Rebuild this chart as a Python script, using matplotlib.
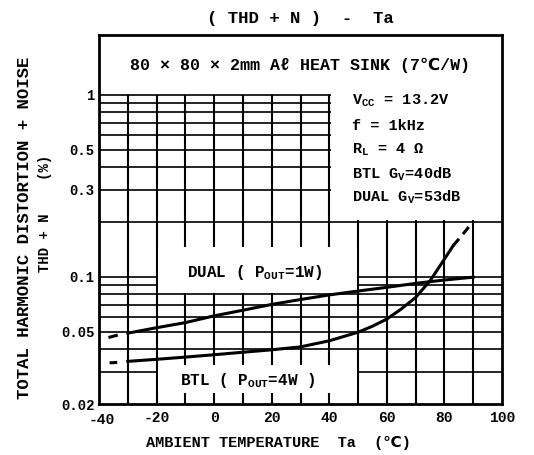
import numpy as np
import matplotlib
matplotlib.use("Agg")
import matplotlib.pyplot as plt
from matplotlib.patches import Rectangle
from matplotlib.transforms import ScaledTranslation

plt.rcParams['font.family'] = ['Liberation Mono', 'DejaVu Sans']
plt.rcParams['font.weight'] = 'bold'
plt.rcParams['mathtext.fontset'] = 'custom'
plt.rcParams['mathtext.rm'] = 'Liberation Mono:bold'
plt.rcParams['mathtext.it'] = 'Liberation Mono:bold'
plt.rcParams['mathtext.bf'] = 'Liberation Mono:bold'

# THD+N vs Ta
dual_x = [-30, -20, -10, 0, 10, 20, 30, 40, 50, 60, 70, 80, 90]
dual_y = [0.049, 0.0525, 0.056, 0.061, 0.0655, 0.0705, 0.075, 0.0795, 0.0835, 0.0875, 0.092, 0.096, 0.0995]

btl_x = [-30, -20, -10, 0, 10, 20, 30, 40, 50, 55, 60, 65, 70, 75, 80, 83]
btl_y = [0.0343, 0.0352, 0.0362, 0.0373, 0.0385, 0.0397, 0.0412, 0.0445, 0.0496, 0.0535, 0.0586, 0.0665, 0.077, 0.095, 0.125, 0.148]

btl_dash_x = [83, 86.5, 89.5]
btl_dash_y = [0.148, 0.172, 0.197]

# little extrapolation dashes at the left end
dual_ext_x = [-36.2, -34.0]
dual_ext_y = [0.0466, 0.0476]
btl_ext_x = [-35.8, -34.2]
btl_ext_y = [0.0337, 0.0338]

xticks = [-40, -20, 0, 20, 40, 60, 80, 100]
xtick_labels = ['-40', '-20', '0', '20', '40', '60', '80', '100']
yticks = [0.02, 0.05, 0.1, 0.3, 0.5, 1]
ytick_labels = ['0.02', '0.05', '0.1', '0.3', '0.5', '1']

grid_x = [-30, -20, -10, 0, 10, 20, 30, 40, 50, 60, 70, 80, 90]
grid_y = [0.03, 0.04, 0.05, 0.06, 0.07, 0.08, 0.09,
          0.1, 0.2, 0.3, 0.4, 0.5, 0.6, 0.7, 0.8, 0.9, 1.0]

fig = plt.figure(figsize=(5.34, 4.55), dpi=100)
ax = fig.add_axes([99/534, 1-404/455, 403/534, 369/455])
ax.set_yscale('log')
ax.set_xlim(-40, 100)
ax.set_ylim(0.02, 2.13)

# grid (only below 1)
ax.vlines(grid_x, 0.02, 1.0, colors='black', lw=1.5, zorder=1)
ax.hlines(grid_y, -40, 100, colors='black', lw=1.2, zorder=1)

# white label boxes that cut the grid
white = dict(facecolor='white', edgecolor='none', zorder=2)
ax.add_patch(Rectangle((40.5, 0.205), 60, 1.0, **white))
ax.add_patch(Rectangle((-19.5, 0.0815), 69.0, 0.146 - 0.0815, **white))
ax.add_patch(Rectangle((-19.5, 0.0229), 69.0, 0.0328 - 0.0229, **white))

ax.plot(dual_x, dual_y, color='black', lw=2.2, zorder=3)
ax.plot(btl_x, btl_y, color='black', lw=2.2, zorder=3)
ax.plot(btl_dash_x, btl_dash_y, color='black', lw=2.2, zorder=3,
        dashes=(3.0, 2.0))
ax.plot(dual_ext_x, dual_ext_y, color='black', lw=2.2, zorder=3)
ax.plot(btl_ext_x, btl_ext_y, color='black', lw=2.2, zorder=3)

for s in ax.spines.values():
    s.set_linewidth(2.0)

ax.set_xticks(xticks)
ax.set_xticklabels(xtick_labels, fontsize=10.5)
ax.set_yticks(yticks)
ax.set_yticklabels(ytick_labels, fontsize=10)
ax.yaxis.set_minor_locator(matplotlib.ticker.NullLocator())
ax.tick_params(length=0, pad=3)
ax.tick_params(axis='x', pad=5)
# the -40 label sits a little to the right in the original
lbl = ax.get_xticklabels()[0]
lbl.set_transform(lbl.get_transform() + ScaledTranslation(3/100, -2/100, fig.dpi_scale_trans))

fig.text(300/534, 1-18/455, '( THD + N )  -  Ta', ha='center', va='center', fontsize=12.5)
fig.text(278/534, 1-443/455, 'AMBIENT TEMPERATURE  Ta  (℃)', ha='center', va='center', fontsize=11)
fig.text(25/534, 1-228/455, 'TOTAL HARMONIC DISTORTION + NOISE', rotation=90,
         ha='center', va='center', fontsize=12.5)
fig.text(45/534, 1-213/455, 'THD + N    (%)', rotation=90,
         ha='center', va='center', fontsize=10)

ax.text((300-99)/403, (404-65)/369, '80 × 80 × 2mm Aℓ HEAT SINK (7℃/W)',
        transform=ax.transAxes, ha='center', va='center', fontsize=12, zorder=4)

cond = ['V$_{\\mathrm{CC}}$ = 13.2V', 'f = 1kHz', 'R$_{\\mathrm{L}}$ = 4 Ω',
        'BTL G$_{\\mathrm{V}}$=40dB', 'DUAL G$_{\\mathrm{V}}$=53dB']
cond_py = [101, 126, 150, 174, 197]
for t, py in zip(cond, cond_py):
    ax.text((352-99)/403, (404-py)/369, t, transform=ax.transAxes,
            ha='left', va='center', fontsize=11, zorder=4)

ax.text((255-99)/403, (404-272)/369, 'DUAL ( P$_{\\mathrm{OUT}}$=1W)',
        transform=ax.transAxes, ha='center', va='center', fontsize=11.5, zorder=4)
ax.text((248-99)/403, (404-380)/369, 'BTL ( P$_{\\mathrm{OUT}}$=4W )',
        transform=ax.transAxes, ha='center', va='center', fontsize=11.5, zorder=4)

fig.savefig('out.png', dpi=100)
